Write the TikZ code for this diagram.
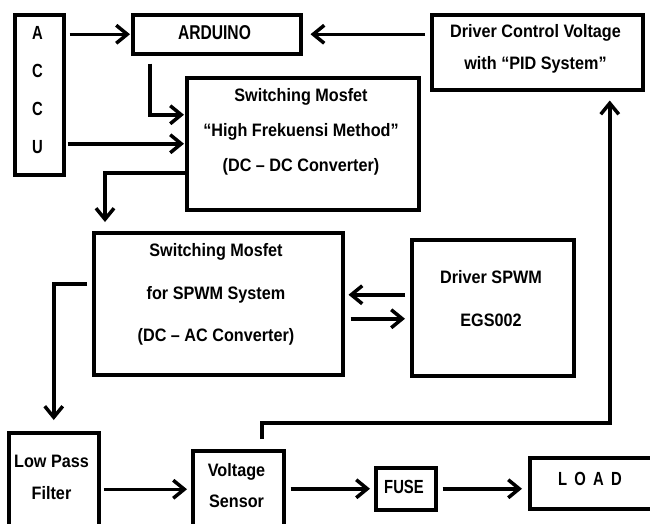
\documentclass[tikz,border=0pt]{standalone}
\usepackage{fontspec}
\setmainfont{Liberation Sans}
\newfontfamily\nf[FakeStretch=0.9]{Liberation Sans}
\newfontfamily\nfa[FakeStretch=0.78]{Liberation Sans}
\usetikzlibrary{arrows.meta,calc}
\begin{document}
\begin{tikzpicture}[x=1pt,y=-1pt,
  box/.style={draw, line width=3.5pt, rectangle, inner sep=0pt, anchor=north west},
  txt/.style={font=\nf\fontsize{18}{#1}\selectfont\bfseries, align=center, inner sep=0pt},
  txt/.default=21,
  arr/.style={line width=3.5pt, -{Straight Barb[length=11pt,width=18pt]}}]
\useasboundingbox (0,0) rectangle (650,523);
\fill[white] (0,0) rectangle (650,523);
\clip (0,0) rectangle (650,523);
% boxes
\node[box, minimum width=49, minimum height=160] (accu) at (13,13) {};
\node[box, minimum width=168, minimum height=39] (ard) at (131,13) {};
\node[box, minimum width=211, minimum height=75] (dcv) at (430,13) {};
\node[box, minimum width=232, minimum height=132] (smhf) at (185,76) {};
\node[box, minimum width=249, minimum height=142] (spwm) at (92,231) {};
\node[box, minimum width=162, minimum height=136] (dsp) at (410,238) {};
\node[box, minimum width=90, minimum height=95] (lpf) at (7,431) {};
\node[box, minimum width=91, minimum height=77] (vs) at (191,449) {};
\node[box, minimum width=60, minimum height=42] (fuse) at (374,466) {};
\node[box, minimum width=129, minimum height=51] (load) at (528,456) {};
% texts
\node[txt=38, font=\nfa\fontsize{19}{38}\selectfont\bfseries] (accut) at (37.5,90) {A\\C\\C\\U};
\node[txt, font=\nfa\fontsize{20}{24}\selectfont\bfseries] (ardt) at (214.5,33) {ARDUINO};
\node[txt=32] (dcvt) at (535.5,49) {Driver Control Voltage\\with “PID System”};
\node[txt=35] (smhft) at (301,132) {Switching Mosfet\\“High Frekuensi Method”\\(DC – DC Converter)};
\node[txt=42.5] (spwmt) at (216,294.5) {Switching Mosfet\\for SPWM System\\(DC – AC Converter)};
\node[txt=43] (dspt) at (491,298.5) {Driver SPWM\\EGS002};
\node[txt=32] (lpft) at (51.5,477) {Low Pass\\Filter};
\node[txt=31] (vst) at (236.5,485.5) {Voltage\\Sensor};
\node[txt, font=\nfa\fontsize{19}{22}\selectfont\bfseries] (fuset) at (404,487) {FUSE};
\node[txt, font=\nfa\fontsize{19}{22}\selectfont\bfseries] (loadt) at (590,479) {L\, O\, A\, D};
% connectors
\draw[arr] ($(accu.east |- ard.west)+(4,0)$) -- ($(ard.west)+(-1,0)$);
\draw[arr] ($(dcv.west |- ard.east)+(-5,0)$) -- ($(ard.east)+(8,0)$);
\draw[arr] ($(ard.south west)+(19,8)$) |- ($(smhf.west)+(-1,-29)$);
\draw[arr] ($(accu.east |- smhf.west)+(2,0)$) -- ($(smhf.west)+(-1,0)$);
\draw[arr] ($(smhf.west)+(0,29)$) -| ($(spwm.north west)+(13,-9)$);
\draw[arr] ($(dsp.west)+(-5,-13)$) -- ($(spwm.east |- dsp.west)+(4,-13)$);
\draw[arr] ($(spwm.east |- dsp.west)+(6,11)$) -- ($(dsp.west)+(-5,11)$);
\draw[arr] ($(spwm.west)+(-5,-20)$) -| ($(lpf.north)+(0,-11)$);
\draw[arr] ($(lpf.east |- vs.west)+(3,0)$) -- ($(vs.west)+(-4,0)$);
\draw[arr] ($(vs.east |- fuse.west)+(5,0)$) -- ($(fuse.west)+(-4,0)$);
\draw[arr] ($(fuse.east)+(5,0)$) -- ($(load.west |- fuse.east)+(-6,0)$);
\draw[arr] ($(vs.north)+(23.5,-10)$) -- ++(0,-16) -| ($(dcv.south)+(72.5,9)$);
\end{tikzpicture}
\end{document}
